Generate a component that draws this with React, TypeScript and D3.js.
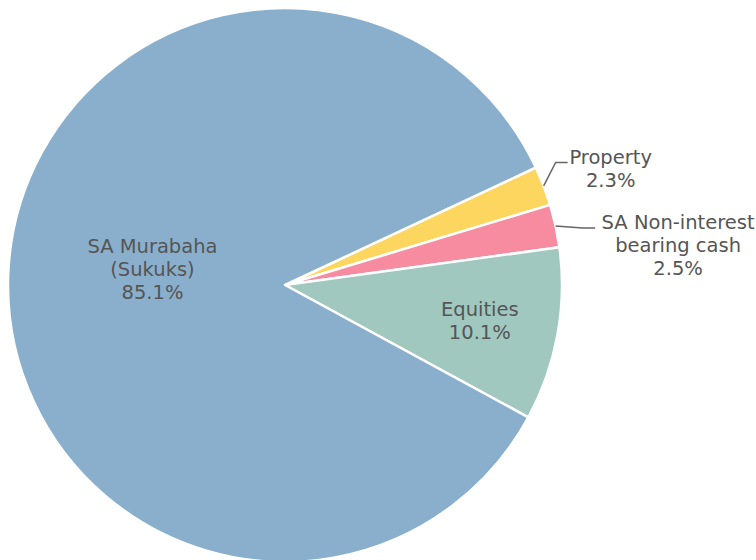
import React from "react";
import * as d3 from "d3";

const labels = ["Property", "SA Non-interest bearing cash", "Equities", "SA Murabaha (Sukuks)"];
const values = [2.3, 2.5, 10.1, 85.1];
const colors = ["#fdd660", "#f78ca1", "#a0c8bf", "#8aafcc"];
const labelLines = [["Property"], ["SA Non-interest", "bearing cash"], ["Equities"], ["SA Murabaha", "(Sukuks)"]];
const outside = [true, true, false, false];

const W = 756, H = 560;
const cx = 285, cy = 285, R = 277;
const startDeg = 64.9;
const fontSize = 19.5;
const lineH = 22.7;
const textColor = "#555555";

export default function App() {
  const pie = d3.pie<number>().sort(null).value((d) => d)
    .startAngle((startDeg * Math.PI) / 180)
    .endAngle((startDeg * Math.PI) / 180 + 2 * Math.PI);
  const arcs = pie(values);
  const arc = d3.arc<d3.PieArcDatum<number>>().innerRadius(0).outerRadius(R);
  const inRadius = [0, 0, 0.715, 0.482];
  const inShiftDeg = [0, 0, 0, 5.2];

  return (
    <svg width={W} height={H} style={{ position: "absolute", left: 0, top: 0 }}
      fontFamily="'DejaVu Sans', Verdana, sans-serif" fontSize={fontSize}>
      <g transform={`translate(${cx},${cy})`}>
        {arcs.map((a, i) => (
          <path key={i} d={arc(a) || ""} fill={colors[i]} stroke="#ffffff" strokeWidth={2.5} strokeLinejoin="round" />
        ))}
        {arcs.map((a, i) => {
          const mid = (a.startAngle + a.endAngle) / 2;
          const lines = [...labelLines[i], `${values[i].toFixed(1)}%`];
          if (!outside[i]) {
            const ang = mid + (inShiftDeg[i] * Math.PI) / 180;
            const r = R * inRadius[i];
            const x = r * Math.sin(ang);
            const y = -r * Math.cos(ang);
            const y0 = y - ((lines.length - 1) * lineH) / 2 + fontSize * 0.36;
            return (
              <text key={"t" + i} x={x} y={y0} textAnchor="middle" fill={textColor}>
                {lines.map((l, j) => (
                  <tspan key={j} x={x} y={y0 + j * lineH}>{l}</tspan>
                ))}
              </text>
            );
          }
          const sx = R * Math.sin(mid);
          const sy = -R * Math.cos(mid);
          let ex: number, ey: number, hx: number, tx: number, ty0: number;
          if (i === 0) {
            ex = sx + 12; ey = sy - 23.5; hx = ex + 12; tx = hx + 43; ty0 = ey + 1.5;
          } else {
            ex = sx + 27; ey = sy + 2; hx = ex + 12.5; tx = hx + 83; ty0 = ey + 1.5;
          }
          return (
            <g key={"o" + i}>
              <polyline points={`${sx},${sy} ${ex},${ey} ${hx},${ey}`} fill="none" stroke="#666666" strokeWidth={1.5} />
              <text x={tx} y={ty0} textAnchor="middle" fill={textColor}>
                {lines.map((l, j) => (
                  <tspan key={j} x={tx} y={ty0 + j * lineH}>{l}</tspan>
                ))}
              </text>
            </g>
          );
        })}
      </g>
    </svg>
  );
}
